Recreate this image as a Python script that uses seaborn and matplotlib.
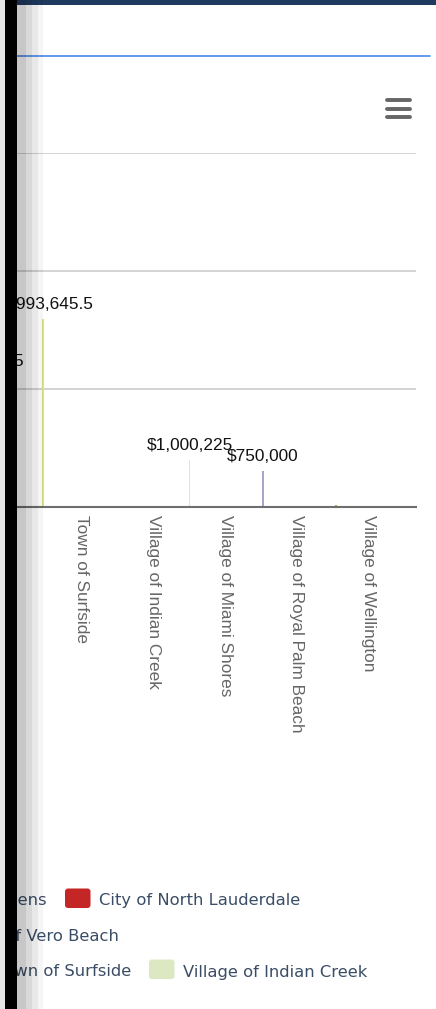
import pandas as pd
import seaborn as sns
import matplotlib.pyplot as plt
import matplotlib.transforms as mtransforms
from matplotlib.patches import Rectangle, FancyBboxPatch
from matplotlib.lines import Line2D

# municipalities = x categories and one series each (alphabetical)
municipalities = [
    "City of Aventura", "City of Boca Raton", "City of Boynton Beach",
    "City of Coconut Creek", "City of Coral Gables", "City of Coral Springs",
    "City of Delray Beach", "City of Doral", "City of Fort Lauderdale",
    "City of Hallandale Beach", "City of Hialeah", "City of Hollywood",
    "City of Homestead", "City of Lauderhill", "City of Margate",
    "City of Miami", "City of Miami Beach", "City of Miami Gardens",
    "City of North Lauderdale", "City of North Miami", "City of Oakland Park",
    "City of Palm Beach Gardens", "City of Pembroke Pines", "City of Plantation",
    "City of Pompano Beach", "City of Sunrise", "City of Tamarac",
    "City of Vero Beach", "City of West Palm Beach", "Town of Palm Beach",
    "Town of Southwest Ranches", "Town of Surfside", "Village of Indian Creek",
    "Village of Miami Shores", "Village of Royal Palm Beach", "Village of Wellington",
]

bar_names = ["Town of Palm Beach", "Town of Southwest Ranches", "Village of Indian Creek",
             "Village of Miami Shores", "Village of Royal Palm Beach"]
bar_values = [2781432.75, 3993645.5, 1000225, 750000, 42000]
bar_labels = ["$2,781,432.75", "$3,993,645.5", "$1,000,225", "$750,000", ""]

series_colors = {
    "Town of Palm Beach": "#d6dd72",
    "Town of Southwest Ranches": "#dbe27c",
    "Village of Indian Creek": "#dbe8c2",
    "Village of Miami Shores": "#aba4c8",
    "Village of Royal Palm Beach": "#8fc43a",
    "City of North Lauderdale": "#c42525",
}

# visible legend rows: (items ending left of the anchor symbol, items after it)
legend_rows = [
    (["City of Miami Gardens"], ["City of North Lauderdale"]),
    (["City of Vero Beach"], []),
    (["Town of Surfside"], ["Village of Indian Creek"]),
]

W, H = 436, 1009
sns.set_style("white")
plt.rcParams["font.family"] = ["Liberation Sans", "DejaVu Sans"]

fig = plt.figure(figsize=(W / 100, H / 100), dpi=100)
# top-down pixel coordinates for the page furniture
px = mtransforms.Affine2D().scale(1, -1).translate(0, H).scale(0.01) + fig.dpi_scale_trans

n = len(municipalities)
cat_w = 71.6
right = 415.5
ax = fig.add_axes([(right - n * cat_w) / W, 1 - 506.7 / H, n * cat_w / W, (506.7 - 153.3) / H])

df = pd.DataFrame({"municipality": bar_names, "value": bar_values})
palette = {m: series_colors.get(m, "#7cb5ec") for m in municipalities}
sns.barplot(data=df, x="municipality", y="value", hue="municipality",
            order=municipalities, hue_order=municipalities, palette=palette,
            width=0.85, gap=0, dodge=True, saturation=1, errorbar=None,
            legend=False, edgecolor="none", linewidth=0, ax=ax)

label_for = dict(zip(bar_values, bar_labels))
for c in ax.containers:
    ax.bar_label(c, labels=[label_for.get(v, "") for v in c.datavalues],
                 padding=5, fontsize=12.4, color="#111111")

ax.set_xlim(-0.5, n - 0.5)
ax.set_ylim(0, 7.5e6)
ax.set_yticks([0, 2.5e6, 5e6, 7.5e6])
ax.set_yticklabels([])
ax.tick_params(axis="y", length=0)
ax.yaxis.grid(True, color="#c8c8c8", linewidth=1.1)
ax.set_axisbelow(True)
ax.set_xlabel("")
ax.set_ylabel("")
sns.despine(ax=ax, left=True)
ax.spines["bottom"].set_color("#6e6e6e")
ax.spines["bottom"].set_linewidth(1.5)

ax.set_xticks(range(n))
ax.set_xticklabels(municipalities, rotation=-90, ha="center", va="top",
                   fontsize=12.4, color="#666666")
ax.set_xticks([i - 0.5 for i in range(n + 1)], minor=True)
ax.tick_params(axis="x", which="major", length=0, pad=5.8)
ax.tick_params(axis="x", which="minor", length=5.5, width=1, color="#c0d0e0", direction="out")
shift = mtransforms.ScaledTranslation(-11.5 / 100, 0, fig.dpi_scale_trans)
visible = mtransforms.TransformedBbox(mtransforms.Bbox([[19, 0], [W, H]]), px)
for lab in ax.get_xticklabels():
    lab.set_transform(lab.get_transform() + shift)
    lab.set_clip_box(visible)
    lab.set_clip_on(True)

# legend (only the right part is on screen)
baselines = [905.5, 941, 976.5]
anchors = [65, 137, 149]
for (before, after), base, sx in zip(legend_rows, baselines, anchors):
    for name in before:
        fig.text(sx - 18, base, name, transform=px, ha="right", va="baseline",
                 fontsize=11.8, family="DejaVu Sans", color="#3a4d66")
    x = sx
    for name in after:
        fig.add_artist(FancyBboxPatch((x, base - 17), 25.5, 19.5, transform=px,
                                      boxstyle="round,pad=0,rounding_size=3",
                                      facecolor=series_colors.get(name, "#cccccc"),
                                      edgecolor="none", zorder=5))
        fig.text(x + 34, base, name, transform=px, ha="left", va="baseline",
                 fontsize=11.8, family="DejaVu Sans", color="#3a4d66")

# hamburger menu
for y in [100, 108.5, 117]:
    fig.add_artist(Line2D([386.5, 409.5], [y, y], transform=px, color="#666666",
                          linewidth=2.8, solid_capstyle="round", zorder=6))

# page chrome: top bar, blue rule, left edge with shadow
fig.add_artist(Line2D([17, 430], [56, 56], transform=px, color="#4a86e8", linewidth=1.2, zorder=6))
fig.add_artist(Rectangle((17, 0), W - 17, 4.5, transform=px, facecolor="#1f3a5f",
                         edgecolor="none", zorder=7))
for x0, x1, a in [(17, 26, 0.22), (26, 32, 0.15), (32, 38, 0.09), (38, 43, 0.04)]:
    fig.add_artist(Rectangle((x0, 0), x1 - x0, H, transform=px, facecolor="black",
                             alpha=a, edgecolor="none", zorder=8))
fig.add_artist(Rectangle((0, 0), 5, H, transform=px, facecolor="#e6e6e6",
                         edgecolor="none", zorder=9))
fig.add_artist(Rectangle((5, 0), 12, H, transform=px, facecolor="black",
                         edgecolor="none", zorder=9))

fig.savefig("out.png", dpi=100)
